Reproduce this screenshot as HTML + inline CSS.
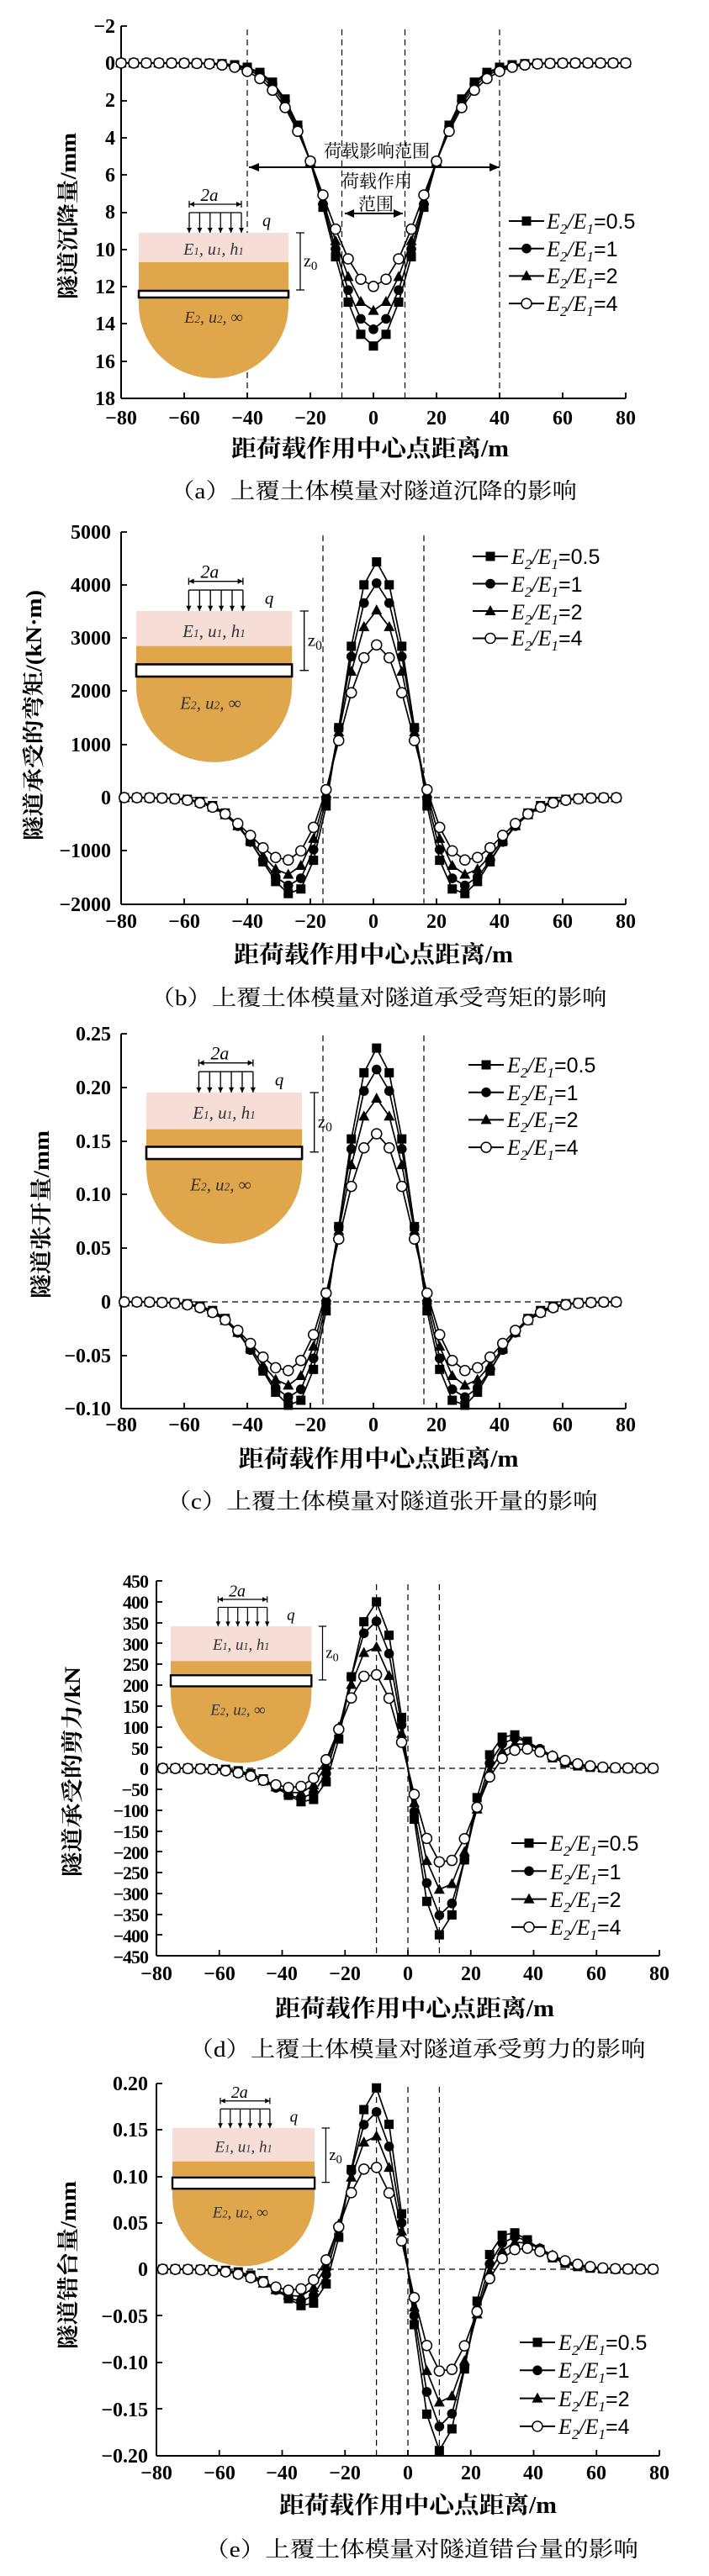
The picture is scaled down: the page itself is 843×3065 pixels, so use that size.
<!DOCTYPE html>
<html><head><meta charset="utf-8">
<style>
html,body{margin:0;padding:0;background:#fff;}
svg{display:block;}
.tk{font-family:"Liberation Serif",serif;font-weight:bold;font-size:24px;fill:#000;}
.tkd{font-family:"Liberation Serif",serif;font-weight:bold;font-size:22px;fill:#000;}
.yt{font-family:"Liberation Serif","Noto Serif CJK SC",serif;font-weight:bold;font-size:26px;fill:#000;}
.xl{font-family:"Liberation Serif","Noto Serif CJK SC",serif;font-weight:bold;font-size:28px;fill:#000;}
.cap{font-family:"Liberation Serif","Noto Serif CJK SC",serif;font-size:26px;fill:#000;}
.lg{font-family:"Liberation Serif",serif;font-style:italic;font-size:26px;fill:#000;}
.lgn{font-family:"Liberation Sans",sans-serif;font-style:normal;font-size:25px;}
.ann{font-family:"Liberation Serif","Noto Serif CJK SC",serif;font-size:21px;fill:#000;}
.ins{font-family:"Liberation Serif",serif;font-style:italic;font-size:20px;fill:#333;}
</style></head><body>
<svg id="s" width="843" height="3065" viewBox="0 0 843 3065" xmlns="http://www.w3.org/2000/svg">
<g id="plots"></g>

<!-- ===== Panel a ===== -->
<g class="tk" text-anchor="end">
<text x="137" y="39">−2</text><text x="137" y="83">0</text><text x="137" y="127">2</text><text x="137" y="172">4</text><text x="137" y="216">6</text><text x="137" y="260">8</text><text x="137" y="305">10</text><text x="137" y="349">12</text><text x="137" y="393">14</text><text x="137" y="438">16</text><text x="137" y="482">18</text>
</g>
<g class="tk" text-anchor="middle">
<text x="144" y="505">−80</text><text x="219" y="505">−60</text><text x="294" y="505">−40</text><text x="369" y="505">−20</text><text x="444" y="505">0</text><text x="519" y="505">20</text><text x="594" y="505">40</text><text x="669" y="505">60</text><text x="744" y="505">80</text>
</g>
<text class="yt" transform="translate(90,257) rotate(-90)" text-anchor="middle" textLength="198" lengthAdjust="spacingAndGlyphs">隧道沉降量/mm</text>
<text class="xl" x="440" y="543" text-anchor="middle" textLength="330" lengthAdjust="spacingAndGlyphs">距荷载作用中心点距离/m</text>
<text class="cap" x="444" y="593" text-anchor="middle" textLength="484" lengthAdjust="spacingAndGlyphs">（a）上覆土体模量对隧道沉降的影响</text>
<text class="ann" x="448" y="187" text-anchor="middle">荷载影响范围</text>
<text class="ann" x="448" y="223" text-anchor="middle">荷载作用</text>
<text class="ann" x="447" y="250" text-anchor="middle">范围</text>
<g class="lg">
<text x="650" y="272">E<tspan dy="6" font-size="17">2</tspan><tspan dy="-6">/E</tspan><tspan dy="6" font-size="17">1</tspan><tspan dy="-6" class="lgn">=0.5</tspan></text>
<text x="650" y="305">E<tspan dy="6" font-size="17">2</tspan><tspan dy="-6">/E</tspan><tspan dy="6" font-size="17">1</tspan><tspan dy="-6" class="lgn">=1</tspan></text>
<text x="650" y="337">E<tspan dy="6" font-size="17">2</tspan><tspan dy="-6">/E</tspan><tspan dy="6" font-size="17">1</tspan><tspan dy="-6" class="lgn">=2</tspan></text>
<text x="650" y="370">E<tspan dy="6" font-size="17">2</tspan><tspan dy="-6">/E</tspan><tspan dy="6" font-size="17">1</tspan><tspan dy="-6" class="lgn">=4</tspan></text>
</g>
<g transform="translate(165,277) scale(1)">
<rect x="0" y="0" width="178" height="35" fill="#f6ddd6"/>
<path d="M0,35 H178 V86 A89,87 0 0 1 0,86 Z" fill="#dfa64c"/>
<rect x="0" y="69" width="178" height="8" fill="#fff" stroke="#000" stroke-width="2.5"/>
<text class="ins" x="89" y="26" text-anchor="middle">E<tspan font-size="13">1</tspan>, u<tspan font-size="13">1</tspan>, h<tspan font-size="13">1</tspan></text>
<text class="ins" x="89" y="107" text-anchor="middle">E<tspan font-size="13">2</tspan>, u<tspan font-size="13">2</tspan>, ∞</text>
<text class="ins" x="84" y="-38" text-anchor="middle" style="font-size:21px;fill:#000">2<tspan font-style="italic">a</tspan></text>
<text class="ins" x="147" y="-8" style="fill:#000">q</text>
<text class="ins" x="196" y="40" style="fill:#000;font-style:normal">z<tspan font-size="15" dy="4">0</tspan></text>
<path d="M60,-24 H122 M60,-34 H122 M60,-38 V-30 M122,-38 V-30 M192,0 V68 M187,0 H197 M187,68 H197" stroke="#000" stroke-width="1.3" fill="none"/>
<path d="M60,-24 V0 M72.4,-24 V0 M84.8,-24 V0 M97.2,-24 V0 M109.6,-24 V0 M122,-24 V0" stroke="#000" stroke-width="1.3"/>
<path d="M57,-6 L60,0 L63,-6Z M69.4,-6 L72.4,0 L75.4,-6Z M81.8,-6 L84.8,0 L87.8,-6Z M94.2,-6 L97.2,0 L100.2,-6Z M106.6,-6 L109.6,0 L112.6,-6Z M119,-6 L122,0 L125,-6Z M60,-34 l6,-3 v6Z M122,-34 l-6,-3 v6Z" fill="#000"/>
</g>

<!-- ===== Panel b ===== -->
<g class="tk" text-anchor="end">
<text x="132" y="641">5000</text><text x="132" y="704">4000</text><text x="132" y="767">3000</text><text x="132" y="830">2000</text><text x="132" y="894">1000</text><text x="132" y="957">0</text><text x="132" y="1020">−1000</text><text x="132" y="1084">−2000</text>
</g>
<g class="tk" text-anchor="middle">
<text x="144" y="1104">−80</text><text x="219" y="1104">−60</text><text x="294" y="1104">−40</text><text x="369" y="1104">−20</text><text x="444" y="1104">0</text><text x="519" y="1104">20</text><text x="594" y="1104">40</text><text x="669" y="1104">60</text><text x="744" y="1104">80</text>
</g>
<text class="yt" transform="translate(49,851) rotate(-90)" text-anchor="middle" textLength="298" lengthAdjust="spacingAndGlyphs">隧道承受的弯矩/(kN·m)</text>
<text class="xl" x="444" y="1145" text-anchor="middle" textLength="332" lengthAdjust="spacingAndGlyphs">距荷载作用中心点距离/m</text>
<text class="cap" x="450" y="1196" text-anchor="middle" textLength="543" lengthAdjust="spacingAndGlyphs">（b）上覆土体模量对隧道承受弯矩的影响</text>
<g class="lg">
<text x="608" y="671">E<tspan dy="6" font-size="17">2</tspan><tspan dy="-6">/E</tspan><tspan dy="6" font-size="17">1</tspan><tspan dy="-6" class="lgn">=0.5</tspan></text>
<text x="608" y="704">E<tspan dy="6" font-size="17">2</tspan><tspan dy="-6">/E</tspan><tspan dy="6" font-size="17">1</tspan><tspan dy="-6" class="lgn">=1</tspan></text>
<text x="608" y="737">E<tspan dy="6" font-size="17">2</tspan><tspan dy="-6">/E</tspan><tspan dy="6" font-size="17">1</tspan><tspan dy="-6" class="lgn">=2</tspan></text>
<text x="608" y="768">E<tspan dy="6" font-size="17">2</tspan><tspan dy="-6">/E</tspan><tspan dy="6" font-size="17">1</tspan><tspan dy="-6" class="lgn">=4</tspan></text>
</g>
<g transform="translate(162,727) scale(1.04)">
<rect x="0" y="0" width="178" height="40" fill="#f6ddd6"/>
<path d="M0,40 H178 V86 A89,87 0 0 1 0,86 Z" fill="#dfa64c"/>
<rect x="0" y="61" width="178" height="14" fill="#fff" stroke="#000" stroke-width="2.5"/>
<text class="ins" x="89" y="30" text-anchor="middle">E<tspan font-size="13">1</tspan>, u<tspan font-size="13">1</tspan>, h<tspan font-size="13">1</tspan></text>
<text class="ins" x="85" y="112" text-anchor="middle">E<tspan font-size="13">2</tspan>, u<tspan font-size="13">2</tspan>, ∞</text>
<text class="ins" x="84" y="-38" text-anchor="middle" style="font-size:21px;fill:#000">2<tspan font-style="italic">a</tspan></text>
<text class="ins" x="147" y="-8" style="fill:#000">q</text>
<text class="ins" x="196" y="40" style="fill:#000;font-style:normal">z<tspan font-size="15" dy="4">0</tspan></text>
<path d="M60,-24 H122 M60,-34 H122 M60,-38 V-30 M122,-38 V-30 M192,0 V68 M187,0 H197 M187,68 H197" stroke="#000" stroke-width="1.3" fill="none"/>
<path d="M60,-24 V0 M72.4,-24 V0 M84.8,-24 V0 M97.2,-24 V0 M109.6,-24 V0 M122,-24 V0" stroke="#000" stroke-width="1.3"/>
<path d="M57,-6 L60,0 L63,-6Z M69.4,-6 L72.4,0 L75.4,-6Z M81.8,-6 L84.8,0 L87.8,-6Z M94.2,-6 L97.2,0 L100.2,-6Z M106.6,-6 L109.6,0 L112.6,-6Z M119,-6 L122,0 L125,-6Z M60,-34 l6,-3 v6Z M122,-34 l-6,-3 v6Z" fill="#000"/>
</g>

<!-- ===== Panel c ===== -->
<g class="tk" text-anchor="end">
<text x="132" y="1238">0.25</text><text x="132" y="1302">0.20</text><text x="132" y="1366">0.15</text><text x="132" y="1429">0.10</text><text x="132" y="1493">0.05</text><text x="132" y="1557">0</text><text x="132" y="1621">−0.05</text><text x="132" y="1684">−0.10</text>
</g>
<g class="tk" text-anchor="middle">
<text x="144" y="1703">−80</text><text x="219" y="1703">−60</text><text x="294" y="1703">−40</text><text x="369" y="1703">−20</text><text x="444" y="1703">0</text><text x="519" y="1703">20</text><text x="594" y="1703">40</text><text x="669" y="1703">60</text><text x="744" y="1703">80</text>
</g>
<text class="yt" transform="translate(58,1445) rotate(-90)" text-anchor="middle" textLength="200" lengthAdjust="spacingAndGlyphs">隧道张开量/mm</text>
<text class="xl" x="450" y="1745" text-anchor="middle" textLength="333" lengthAdjust="spacingAndGlyphs">距荷载作用中心点距离/m</text>
<text class="cap" x="454" y="1795" text-anchor="middle" textLength="513" lengthAdjust="spacingAndGlyphs">（c）上覆土体模量对隧道张开量的影响</text>
<g class="lg">
<text x="603" y="1276">E<tspan dy="6" font-size="17">2</tspan><tspan dy="-6">/E</tspan><tspan dy="6" font-size="17">1</tspan><tspan dy="-6" class="lgn">=0.5</tspan></text>
<text x="603" y="1309">E<tspan dy="6" font-size="17">2</tspan><tspan dy="-6">/E</tspan><tspan dy="6" font-size="17">1</tspan><tspan dy="-6" class="lgn">=1</tspan></text>
<text x="603" y="1341">E<tspan dy="6" font-size="17">2</tspan><tspan dy="-6">/E</tspan><tspan dy="6" font-size="17">1</tspan><tspan dy="-6" class="lgn">=2</tspan></text>
<text x="603" y="1374">E<tspan dy="6" font-size="17">2</tspan><tspan dy="-6">/E</tspan><tspan dy="6" font-size="17">1</tspan><tspan dy="-6" class="lgn">=4</tspan></text>
</g>
<g transform="translate(174,1300) scale(1.04)">
<rect x="0" y="0" width="178" height="42" fill="#f6ddd6"/>
<path d="M0,42 H178 V86 A89,87 0 0 1 0,86 Z" fill="#dfa64c"/>
<rect x="0" y="62" width="178" height="14" fill="#fff" stroke="#000" stroke-width="2.5"/>
<text class="ins" x="89" y="30" text-anchor="middle">E<tspan font-size="13">1</tspan>, u<tspan font-size="13">1</tspan>, h<tspan font-size="13">1</tspan></text>
<text class="ins" x="85" y="112" text-anchor="middle">E<tspan font-size="13">2</tspan>, u<tspan font-size="13">2</tspan>, ∞</text>
<text class="ins" x="84" y="-38" text-anchor="middle" style="font-size:21px;fill:#000">2<tspan font-style="italic">a</tspan></text>
<text class="ins" x="147" y="-8" style="fill:#000">q</text>
<text class="ins" x="196" y="40" style="fill:#000;font-style:normal">z<tspan font-size="15" dy="4">0</tspan></text>
<path d="M60,-24 H122 M60,-34 H122 M60,-38 V-30 M122,-38 V-30 M192,0 V68 M187,0 H197 M187,68 H197" stroke="#000" stroke-width="1.3" fill="none"/>
<path d="M60,-24 V0 M72.4,-24 V0 M84.8,-24 V0 M97.2,-24 V0 M109.6,-24 V0 M122,-24 V0" stroke="#000" stroke-width="1.3"/>
<path d="M57,-6 L60,0 L63,-6Z M69.4,-6 L72.4,0 L75.4,-6Z M81.8,-6 L84.8,0 L87.8,-6Z M94.2,-6 L97.2,0 L100.2,-6Z M106.6,-6 L109.6,0 L112.6,-6Z M119,-6 L122,0 L125,-6Z M60,-34 l6,-3 v6Z M122,-34 l-6,-3 v6Z" fill="#000"/>
</g>

<!-- ===== Panel d ===== -->
<g class="tkd" text-anchor="end" letter-spacing="-1">
<text x="176" y="1889">450</text><text x="176" y="1914">400</text><text x="176" y="1939">350</text><text x="176" y="1964">300</text><text x="176" y="1988">250</text><text x="176" y="2013">200</text><text x="176" y="2038">150</text><text x="176" y="2063">100</text><text x="176" y="2088">50</text><text x="176" y="2112">0</text><text x="176" y="2137">−50</text><text x="176" y="2162">−100</text><text x="176" y="2187">−150</text><text x="176" y="2212">−200</text><text x="176" y="2236">−250</text><text x="176" y="2261">−300</text><text x="176" y="2286">−350</text><text x="176" y="2311">−400</text><text x="176" y="2336">−450</text>
</g>
<g class="tk" text-anchor="middle">
<text x="186" y="2356">−80</text><text x="261" y="2356">−60</text><text x="335" y="2356">−40</text><text x="410" y="2356">−20</text><text x="485" y="2356">0</text><text x="560" y="2356">20</text><text x="634" y="2356">40</text><text x="709" y="2356">60</text><text x="784" y="2356">80</text>
</g>
<text class="yt" transform="translate(95,2108) rotate(-90)" text-anchor="middle" textLength="250" lengthAdjust="spacingAndGlyphs">隧道承受的剪力/kN</text>
<text class="xl" x="493" y="2399" text-anchor="middle" textLength="332" lengthAdjust="spacingAndGlyphs">距荷载作用中心点距离/m</text>
<text class="cap" x="496" y="2447" text-anchor="middle" textLength="543" lengthAdjust="spacingAndGlyphs">（d）上覆土体模量对隧道承受剪力的影响</text>
<g class="lg">
<text x="654" y="2202">E<tspan dy="6" font-size="17">2</tspan><tspan dy="-6">/E</tspan><tspan dy="6" font-size="17">1</tspan><tspan dy="-6" class="lgn">=0.5</tspan></text>
<text x="654" y="2236">E<tspan dy="6" font-size="17">2</tspan><tspan dy="-6">/E</tspan><tspan dy="6" font-size="17">1</tspan><tspan dy="-6" class="lgn">=1</tspan></text>
<text x="654" y="2269">E<tspan dy="6" font-size="17">2</tspan><tspan dy="-6">/E</tspan><tspan dy="6" font-size="17">1</tspan><tspan dy="-6" class="lgn">=2</tspan></text>
<text x="654" y="2302">E<tspan dy="6" font-size="17">2</tspan><tspan dy="-6">/E</tspan><tspan dy="6" font-size="17">1</tspan><tspan dy="-6" class="lgn">=4</tspan></text>
</g>
<g transform="translate(203,1935) scale(0.94)">
<rect x="0" y="0" width="178" height="44" fill="#f6ddd6"/>
<path d="M0,44 H178 V86 A89,87 0 0 1 0,86 Z" fill="#dfa64c"/>
<rect x="0" y="62" width="178" height="14" fill="#fff" stroke="#000" stroke-width="2.5"/>
<text class="ins" x="89" y="30" text-anchor="middle">E<tspan font-size="13">1</tspan>, u<tspan font-size="13">1</tspan>, h<tspan font-size="13">1</tspan></text>
<text class="ins" x="85" y="112" text-anchor="middle">E<tspan font-size="13">2</tspan>, u<tspan font-size="13">2</tspan>, ∞</text>
<text class="ins" x="84" y="-38" text-anchor="middle" style="font-size:21px;fill:#000">2<tspan font-style="italic">a</tspan></text>
<text class="ins" x="147" y="-8" style="fill:#000">q</text>
<text class="ins" x="196" y="40" style="fill:#000;font-style:normal">z<tspan font-size="15" dy="4">0</tspan></text>
<path d="M60,-24 H122 M60,-34 H122 M60,-38 V-30 M122,-38 V-30 M192,0 V68 M187,0 H197 M187,68 H197" stroke="#000" stroke-width="1.3" fill="none"/>
<path d="M60,-24 V0 M72.4,-24 V0 M84.8,-24 V0 M97.2,-24 V0 M109.6,-24 V0 M122,-24 V0" stroke="#000" stroke-width="1.3"/>
<path d="M57,-6 L60,0 L63,-6Z M69.4,-6 L72.4,0 L75.4,-6Z M81.8,-6 L84.8,0 L87.8,-6Z M94.2,-6 L97.2,0 L100.2,-6Z M106.6,-6 L109.6,0 L112.6,-6Z M119,-6 L122,0 L125,-6Z M60,-34 l6,-3 v6Z M122,-34 l-6,-3 v6Z" fill="#000"/>
</g>

<!-- ===== Panel e ===== -->
<g class="tk" text-anchor="end">
<text x="176" y="2487">0.20</text><text x="176" y="2542">0.15</text><text x="176" y="2598">0.10</text><text x="176" y="2653">0.05</text><text x="176" y="2708">0</text><text x="176" y="2764">−0.05</text><text x="176" y="2819">−0.10</text><text x="176" y="2875">−0.15</text><text x="176" y="2930">−0.20</text>
</g>
<g class="tk" text-anchor="middle">
<text x="186" y="2950">−80</text><text x="261" y="2950">−60</text><text x="335" y="2950">−40</text><text x="410" y="2950">−20</text><text x="485" y="2950">0</text><text x="560" y="2950">20</text><text x="634" y="2950">40</text><text x="709" y="2950">60</text><text x="784" y="2950">80</text>
</g>
<text class="yt" transform="translate(90,2695) rotate(-90)" text-anchor="middle" textLength="200" lengthAdjust="spacingAndGlyphs">隧道错台量/mm</text>
<text class="xl" x="497" y="2990" text-anchor="middle" textLength="330" lengthAdjust="spacingAndGlyphs">距荷载作用中心点距离/m</text>
<text class="cap" x="501" y="3042" text-anchor="middle" textLength="516" lengthAdjust="spacingAndGlyphs">（e）上覆土体模量对隧道错台量的影响</text>
<g class="lg">
<text x="664" y="2796">E<tspan dy="6" font-size="17">2</tspan><tspan dy="-6">/E</tspan><tspan dy="6" font-size="17">1</tspan><tspan dy="-6" class="lgn">=0.5</tspan></text>
<text x="664" y="2829">E<tspan dy="6" font-size="17">2</tspan><tspan dy="-6">/E</tspan><tspan dy="6" font-size="17">1</tspan><tspan dy="-6" class="lgn">=1</tspan></text>
<text x="664" y="2863">E<tspan dy="6" font-size="17">2</tspan><tspan dy="-6">/E</tspan><tspan dy="6" font-size="17">1</tspan><tspan dy="-6" class="lgn">=2</tspan></text>
<text x="664" y="2896">E<tspan dy="6" font-size="17">2</tspan><tspan dy="-6">/E</tspan><tspan dy="6" font-size="17">1</tspan><tspan dy="-6" class="lgn">=4</tspan></text>
</g>
<g transform="translate(205,2532) scale(0.95)">
<rect x="0" y="0" width="178" height="42" fill="#f6ddd6"/>
<path d="M0,42 H178 V86 A89,87 0 0 1 0,86 Z" fill="#dfa64c"/>
<rect x="0" y="62" width="178" height="14" fill="#fff" stroke="#000" stroke-width="2.5"/>
<text class="ins" x="89" y="30" text-anchor="middle">E<tspan font-size="13">1</tspan>, u<tspan font-size="13">1</tspan>, h<tspan font-size="13">1</tspan></text>
<text class="ins" x="85" y="112" text-anchor="middle">E<tspan font-size="13">2</tspan>, u<tspan font-size="13">2</tspan>, ∞</text>
<text class="ins" x="84" y="-38" text-anchor="middle" style="font-size:21px;fill:#000">2<tspan font-style="italic">a</tspan></text>
<text class="ins" x="147" y="-8" style="fill:#000">q</text>
<text class="ins" x="196" y="40" style="fill:#000;font-style:normal">z<tspan font-size="15" dy="4">0</tspan></text>
<path d="M60,-24 H122 M60,-34 H122 M60,-38 V-30 M122,-38 V-30 M192,0 V68 M187,0 H197 M187,68 H197" stroke="#000" stroke-width="1.3" fill="none"/>
<path d="M60,-24 V0 M72.4,-24 V0 M84.8,-24 V0 M97.2,-24 V0 M109.6,-24 V0 M122,-24 V0" stroke="#000" stroke-width="1.3"/>
<path d="M57,-6 L60,0 L63,-6Z M69.4,-6 L72.4,0 L75.4,-6Z M81.8,-6 L84.8,0 L87.8,-6Z M94.2,-6 L97.2,0 L100.2,-6Z M106.6,-6 L109.6,0 L112.6,-6Z M119,-6 L122,0 L125,-6Z M60,-34 l6,-3 v6Z M122,-34 l-6,-3 v6Z" fill="#000"/>
</g>
<g id="over"></g>
</svg>
<script>
(function(){
var NS="http://www.w3.org/2000/svg";
var plots=document.getElementById("plots"), over=document.getElementById("over");
function el(t,a,p){var e=document.createElementNS(NS,t);for(var k in a)e.setAttribute(k,a[k]);(p||plots).appendChild(e);return e;}
function line(x1,y1,x2,y2,w,dash,p){return el("line",{x1:x1,y1:y1,x2:x2,y2:y2,stroke:"#000","stroke-width":w||1.6,"stroke-dasharray":dash||"none"},p);}
function marker(k,x,y,p){
 if(k==0) el("rect",{x:x-5.5,y:y-5.5,width:11,height:11,fill:"#000"},p);
 else if(k==1) el("circle",{cx:x,cy:y,r:5.8,fill:"#000"},p);
 else if(k==2) el("path",{d:"M"+x+","+(y-7)+" L"+(x+6.5)+","+(y+5)+" L"+(x-6.5)+","+(y+5)+"Z",fill:"#000"},p);
 else el("circle",{cx:x,cy:y,r:6,fill:"#fff",stroke:"#000","stroke-width":1.5},p);
}
function panel(P){
 var sx=function(v){return P.X0+(v+80)*(P.X1-P.X0)/160;};
 line(P.X0,P.yTop,P.X0,P.yBot,2);
 line(P.X0,P.yBot,P.X1,P.yBot,2);
 for(var v=-80;v<=80;v+=20){line(sx(v),P.yBot,sx(v),P.yBot-7,1.8);}
 P.yt.forEach(function(y){line(P.X0,y,P.X0+7,y,1.8);});
 P.vd.forEach(function(v){line(sx(v),P.dTop,sx(v),P.yBot,1.2,"7,5");});
 if(P.hz!=null) line(P.X0,P.hz,P.X1,P.hz,1.2,"7,5");
 for(var k=0;k<4;k++){
  var pts=[];
  for(var x=P.xs;x<=P.xe+0.01;x+=4){pts.push([sx(x),P.fy(P.f(k,x))]);}
  el("polyline",{points:pts.map(function(p){return p[0].toFixed(1)+","+p[1].toFixed(1)}).join(" "),fill:"none",stroke:"#000","stroke-width":1.7,"stroke-linejoin":"round"});
  pts.forEach(function(p){marker(k,p[0],p[1]);});
 }
 for(var k=0;k<4;k++){
  var y=P.lg[1]+k*P.lg[2];
  line(P.lg[0],y,P.lg[0]+42,y,2,null,over);
  marker(k,P.lg[0]+21,y,over);
 }
}
function mh(u){return (1-u*u)*Math.exp(-u*u/2);}
function sh(u){return (u*u*u-3*u)*Math.exp(-u*u/2)/1.38;}
var pa=[15.2,14.3,13.3,12.0], s2=[190,201,218,243];
panel({X0:144,X1:744,yTop:31,yBot:474,dTop:35,yt:[31,75,120,164,208,253,297,341,385,430,474],
 vd:[-40,-10,10,40],hz:null,xs:-80,xe:80,
 f:function(k,x){return pa[k]*Math.exp(-x*x/(2*s2[k]));},
 fy:function(v){return 75+v*22.15;},lg:[605,263,32.7]});
var pb=[4430,4030,3520,2870];
panel({X0:144,X1:744,yTop:633,yBot:1076,dTop:637,yt:[633,696,759,822,886,949,1012,1076],
 vd:[-16,16],hz:949,xs:-79,xe:79,
 f:function(k,x){var u=(x-1)/(15.5+k*0.4);var m=mh(u);if(Math.abs(u)>1)m*=0.92;return pb[k]*m;},
 fy:function(v){return 949-v*0.0633;},lg:[562,662,32.5]});
var pc=[0.237,0.217,0.19,0.157];
panel({X0:144,X1:744,yTop:1230,yBot:1676,dTop:1232,yt:[1230,1294,1358,1421,1485,1549,1613,1676],
 vd:[-16,16],hz:1549,xs:-79,xe:79,
 f:function(k,x){var u=(x-1)/(15.5+k*0.4);var m=mh(u);if(Math.abs(u)>1)m*=0.92;return pc[k]*m;},
 fy:function(v){return 1549-v/0.05*63.7;},lg:[557,1267,32.7]});
var pd=[400,355,295,230];
panel({X0:186,X1:784,yTop:1881,yBot:2327,dTop:1885,yt:[1881,1906,1931,1955,1980,2005,2030,2055,2079,2104,2129,2154,2179,2203,2228,2253,2278,2302,2327],
 vd:[-10,0,10],hz:2104,xs:-78,xe:78,
 f:function(k,x){var u=x/(14+k*0.6);var m=sh(u);if(Math.abs(u)>1.732)m*=0.75;return pd[k]*m;},
 fy:function(v){return 2104-v*0.496;},lg:[608,2193,33.3]});
var pe=[0.195,0.17,0.145,0.112];
panel({X0:186,X1:784,yTop:2479,yBot:2922,dTop:2483,yt:[2479,2534,2590,2645,2700,2755,2811,2866,2922],
 vd:[-10,0,10],hz:2700,xs:-78,xe:78,
 f:function(k,x){var u=x/(14+k*0.6);var m=sh(u);if(Math.abs(u)>1.732)m*=0.75;return pe[k]*m;},
 fy:function(v){return 2700-v/0.05*55.4;},lg:[618,2787,33.3]});
line(296,199,594,199,2,null,over);
el("path",{d:"M296,199 l12,-5 v10Z M594,199 l-12,-5 v10Z",fill:"#000"},over);
line(410,254,479,254,2,null,over);
el("path",{d:"M410,254 l11,-5 v10Z M479,254 l-11,-5 v10Z",fill:"#000"},over);
})();
</script>
</body></html>
